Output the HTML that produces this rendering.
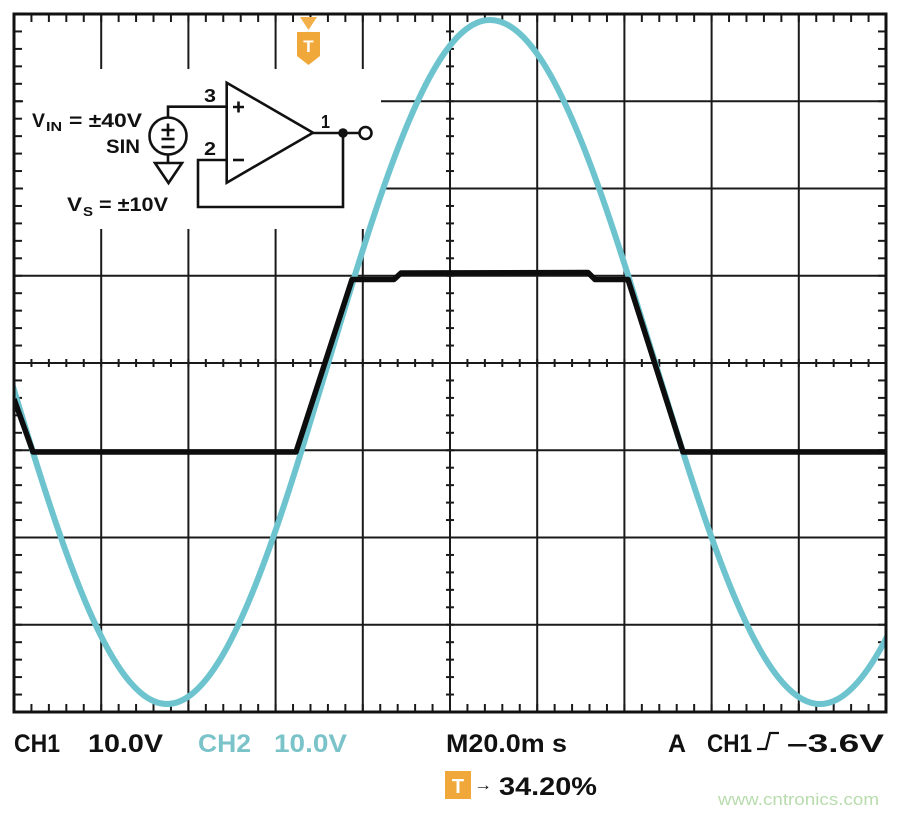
<!DOCTYPE html>
<html>
<head>
<meta charset="utf-8">
<style>
  html, body { margin: 0; padding: 0; background: #fff; }
  svg { display: block; }
  text { font-family: "Liberation Sans", Arial, sans-serif; }
</style>
</head>
<body>
<svg width="900" height="815" viewBox="0 0 900 815" xmlns="http://www.w3.org/2000/svg">
  <defs>
    <pattern id="pV" patternUnits="userSpaceOnUse" x="13" y="0" width="17.44" height="1000">
      <rect x="0" y="0" width="2" height="1000" fill="#1a1a1a"/>
    </pattern>
    <pattern id="pH" patternUnits="userSpaceOnUse" x="0" y="13" width="1000" height="17.45">
      <rect x="0" y="0" width="1000" height="2" fill="#1a1a1a"/>
    </pattern>
    <clipPath id="plot">
      <rect x="14" y="14" width="872" height="698"/>
    </clipPath>
  </defs>

  <rect x="0" y="0" width="900" height="815" fill="#fff"/>

  <!-- grid lines -->
  <g stroke="#1a1a1a" stroke-width="2" fill="none">
    <path d="M101.2,14V712 M188.4,14V712 M275.6,14V712 M362.8,14V712 M450,14V712 M537.2,14V712 M624.4,14V712 M711.6,14V712 M798.8,14V712"/>
    <path d="M14,101.25H886 M14,188.5H886 M14,275.75H886 M14,363H886 M14,450.25H886 M14,537.5H886 M14,624.75H886"/>
  </g>

  <!-- minor ticks -->
  <rect x="14" y="14" width="872" height="8" fill="url(#pV)"/>
  <rect x="14" y="704" width="872" height="8" fill="url(#pV)"/>
  <rect x="14" y="359" width="872" height="8" fill="url(#pV)"/>
  <rect x="14" y="14" width="8" height="698" fill="url(#pH)"/>
  <rect x="878" y="14" width="8" height="698" fill="url(#pH)"/>
  <rect x="446" y="14" width="8" height="698" fill="url(#pH)"/>

  <!-- white area behind schematic -->
  <rect x="23" y="69" width="358" height="160" fill="#fff"/>

  <!-- schematic -->
  <g stroke="#111" stroke-width="2.6" fill="none" stroke-linejoin="miter">
    <path d="M226.7,82.7 L226.7,182.7 L313,132.7 Z" fill="#fff"/>
    <path d="M233,107H244 M238.5,101.5V112.5"/>
    <path d="M233,160H244"/>
    <path d="M168,117.5V106.7H226.7"/>
    <circle cx="168" cy="136" r="18.5" fill="#fff"/>
    <path d="M161.5,130H174.5 M168,123.5V136.5"/>
    <path d="M161.5,139H174.5"/>
    <path d="M161.5,147H174.5"/>
    <path d="M168,154.5V163"/>
    <path d="M155,163H182L168.5,183Z"/>
    <path d="M226.7,160H198V207H343V133"/>
    <path d="M313,133H359"/>
    <circle cx="365.5" cy="133" r="6" fill="#fff"/>
  </g>
  <circle cx="343" cy="133" r="4.8" fill="#111"/>

  <g font-weight="bold" fill="#111">
    <text x="32" y="127" font-size="19" textLength="13" lengthAdjust="spacingAndGlyphs">V</text>
    <text x="46" y="131" font-size="13" textLength="16" lengthAdjust="spacingAndGlyphs">IN</text>
    <text x="69" y="127" font-size="19" textLength="73" lengthAdjust="spacingAndGlyphs">= ±40V</text>
    <text x="106" y="153" font-size="19" textLength="34" lengthAdjust="spacingAndGlyphs">SIN</text>
    <text x="67" y="211" font-size="19" textLength="15" lengthAdjust="spacingAndGlyphs">V</text>
    <text x="83" y="216" font-size="13" textLength="10" lengthAdjust="spacingAndGlyphs">S</text>
    <text x="99" y="211" font-size="19" textLength="69" lengthAdjust="spacingAndGlyphs">= ±10V</text>
    <text x="204" y="102" font-size="18" textLength="12" lengthAdjust="spacingAndGlyphs">3</text>
    <text x="204" y="155" font-size="18" textLength="12" lengthAdjust="spacingAndGlyphs">2</text>
    <text x="321" y="128" font-size="18" textLength="9" lengthAdjust="spacingAndGlyphs">1</text>
  </g>

  <!-- trigger marker top -->
  <path d="M300,17H317L308.5,30Z" fill="#f3b04a"/>
  <path d="M297,32H320V56L308.5,65L297,56Z" fill="#f0a83a"/>
  <text x="308.5" y="52" font-size="17" font-weight="bold" fill="#fff" text-anchor="middle">T</text>

  <!-- CH2 cyan sine -->
  <g clip-path="url(#plot)">
    <path fill="none" stroke="#6dc4ce" stroke-width="6" stroke-linecap="round" stroke-linejoin="round"
      d="M5.5,362
         C14.47,391.85 23.45,421.67 32.42,450.5
         C41.39,479.33 50.36,507.15 59.33,533
         C68.3,558.85 77.28,582.69 86.25,603.8
         C95.22,624.91 104.2,643.27 113.17,658.2
         C122.14,673.13 131.11,684.57 140.08,692.3
         C149.05,700.03 158.03,704 167,704
         C175.97,704 184.95,700.03 193.92,692.3
         C202.89,684.57 211.86,673.13 220.83,658.2
         C229.8,643.27 238.78,624.91 247.75,603.8
         C256.72,582.69 265.7,558.85 274.67,533
         C283.64,507.15 292.61,479.33 301.58,450.5
         C310.55,421.67 319.53,391.85 328.5,362
         C337.47,332.15 346.45,302.33 355.42,273.5
         C364.39,244.67 373.36,216.85 382.33,191
         C391.3,165.15 400.28,141.31 409.25,120.2
         C418.22,99.09 427.2,80.73 436.17,65.8
         C445.14,50.87 454.11,39.43 463.08,31.7
         C472.05,23.97 481.03,20 490,20
         C499.17,20 508.33,23.97 517.5,31.7
         C526.67,39.43 535.83,50.87 545,65.8
         C554.17,80.73 563.33,99.09 572.5,120.2
         C581.67,141.31 590.83,165.15 600,191
         C609.17,216.85 618.33,244.67 627.5,273.5
         C636.67,302.33 645.83,332.15 655,362
         C664.17,391.85 673.33,421.67 682.5,450.5
         C691.67,479.33 700.83,507.15 710,533
         C719.17,558.85 728.33,582.69 737.5,603.8
         C746.67,624.91 755.83,643.27 765,658.2
         C774.17,673.13 783.33,684.57 792.5,692.3
         C801.67,700.03 810.83,704 820,704
         C829.17,704 838.33,700.03 847.5,692.3
         C856.67,684.57 865.83,673.13 875,658.2
         C884.17,643.27 893.33,624.91 902.5,603.8"/>
    <!-- CH1 black output -->
    <path fill="none" stroke="#0d0d0d" stroke-width="5.5" stroke-linejoin="round"
      d="M14,399 L33,452 L296,452 L352,279.5 L394,279.5 L401,273 L588,272.5 L595,279.5 L628,279.5 L683,452 L886,452"/>
  </g>

  <!-- border -->
  <rect x="14" y="14" width="872" height="698" fill="none" stroke="#111" stroke-width="3"/>

  <!-- bottom readout -->
  <g font-size="25" font-weight="bold">
    <text x="14" y="752" fill="#111" textLength="46" lengthAdjust="spacingAndGlyphs">CH1</text>
    <text x="88" y="752" fill="#111" textLength="75" lengthAdjust="spacingAndGlyphs">10.0V</text>
    <text x="198" y="752" fill="#79c3c9" textLength="53" lengthAdjust="spacingAndGlyphs">CH2</text>
    <text x="274" y="752" fill="#79c3c9" textLength="73" lengthAdjust="spacingAndGlyphs">10.0V</text>
    <text x="446" y="752" fill="#111" textLength="121" lengthAdjust="spacingAndGlyphs">M20.0m s</text>
    <text x="668" y="752" fill="#111" textLength="18" lengthAdjust="spacingAndGlyphs">A</text>
    <text x="707" y="752" fill="#111" textLength="45" lengthAdjust="spacingAndGlyphs">CH1</text>
    <text x="787" y="752" fill="#111" textLength="97" lengthAdjust="spacingAndGlyphs">–3.6V</text>
    <text x="499" y="795" fill="#111" textLength="98" lengthAdjust="spacingAndGlyphs">34.20%</text>
  </g>
  <path d="M757,749H766L770,733H779" fill="none" stroke="#111" stroke-width="2.2"/>
  <rect x="445" y="771" width="26" height="28" fill="#f0a83a"/>
  <text x="458" y="793" font-size="20" font-weight="bold" fill="#fff" text-anchor="middle">T</text>
  <text x="474" y="790" font-size="16" font-weight="bold" fill="#111" textLength="18" lengthAdjust="spacingAndGlyphs">→</text>
  <text x="718" y="805" font-size="17" fill="#b8dcae" textLength="161" lengthAdjust="spacingAndGlyphs">www.cntronics.com</text>
</svg>
</body>
</html>
